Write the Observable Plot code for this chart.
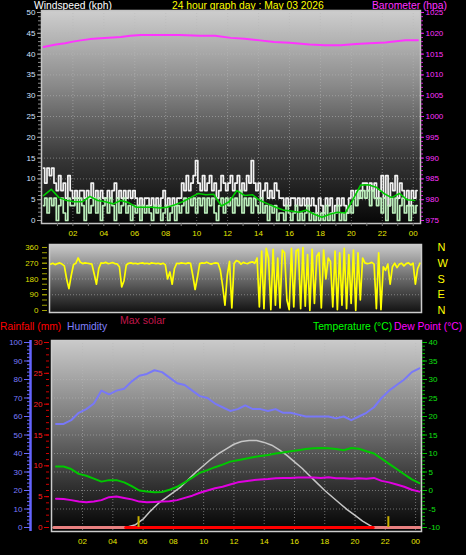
<!DOCTYPE html>
<html><head><meta charset="utf-8">
<script src="https://cdn.jsdelivr.net/npm/d3@7"></script>
<script src="https://cdn.jsdelivr.net/npm/@observablehq/plot@0.6"></script>
<style>
html,body{margin:0;padding:0;background:#000;overflow:hidden}
#wrap{position:relative;width:466px;height:555px;background:#000;font-family:"Liberation Sans",Arial,sans-serif;overflow:hidden}
.lbl{position:absolute;white-space:nowrap;line-height:1;font-family:"Liberation Sans",Arial,sans-serif}
.top{line-height:7px;top:2.4px;font-size:10.3px}
</style></head><body><div id="wrap">
<div class="lbl top" style="left:34px;color:#ffffff">Windspeed (kph)</div>
<div class="lbl top" style="left:172px;color:#ffff00">24 hour graph day : May 03 2026</div>
<div class="lbl top" style="left:372px;color:#ff33ff">Barometer (hpa)</div>
<div class="lbl" style="left:120px;top:314.5px;font-size:10.5px;color:#c0164a">Max solar</div>
<div class="lbl" style="left:0px;top:321.6px;font-size:10.3px;color:#ff0000">Rainfall (mm)</div>
<div class="lbl" style="left:67px;top:321.6px;font-size:10.3px;color:#8080ff">Humidity</div>
<div class="lbl" style="left:313px;top:321.6px;font-size:10.3px;color:#00ff00">Temperature (°C)</div>
<div class="lbl" style="left:394px;top:321.6px;font-size:10.3px;color:#ff00ff">Dew Point (°C)</div>
</div>
<script>
// ---------- DATA ----------
const hourTicks = [2,4,6,8,10,12,14,16,18,20,22,24];
const hourTickLabels = ["02","04","06","08","10","12","14","16","18","20","22","00"];
const compassLabels = {360:"N",270:"W",180:"S",90:"E",0:"N"};

// wind samples every 0.15 h starting at 0.1 h (km/h)
const gust = [12.6,9,12.6,10.8,12.6, 9,7.2,10.8,7.2,9,5.4, 10.8,7.2,
 5.4,7.2,5.4,7.2,7.2,5.4,7.2,5.4,9,5.4,7.2,5.4,7.2,5.4,5.4,7.2,5.4,7.2,9,5.4,7.2,5.4,7.2,5.4,7.2,5.4,7.2,
 5.4,3.6,5.4,3.6,5.4,5.4,3.6,5.4,3.6,5.4,3.6,5.4,7.2,3.6,5.4,3.6,5.4,3.6,5.4,5.4,
 9,7.2,10.8,7.2,9,10.8,14.4,
 9,7.2,10.8,7.2,9,10.8,7.2,9,5.4,7.2,10.8,9,7.2,
 9,10.8,7.2,9,10.8,7.2,9,7.2,10.8,9,14.4,9,
 7.2,9,5.4,7.2,9,5.4,7.2,5.4,9,7.2,5.4,
 5.4,3.6,5.4,3.6,5.4,5.4,3.6,5.4,3.6,5.4,3.6,5.4,3.6,5.4,
 3.6,1.8,5.4,3.6,1.8,5.4,3.6,5.4,1.8,3.6,5.4,3.6,5.4,3.6,1.8,
 5.4,7.2,5.4,7.2,5.4,7.2,9,
 9,7.2,9,7.2,9,5.4,
 7.2,10.8,5.4,10.8,3.6,9,7.2,10.8,5.4,9,7.2,
 5.4,7.2,3.6,7.2,5.4,7.2];
const wind = [3.6,5.4,1.8,5.4,3.6,
 5.4,0,3.6,5.4,1.8,0,5.4,3.6,
 3.6,5.4,1.8,5.4,3.6,0,5.4,1.8,3.6,5.4,1.8,5.4,0,3.6,5.4,1.8,5.4,3.6,0,5.4,1.8,3.6,5.4,1.8,3.6,0,3.6,
 1.8,3.6,0,3.6,1.8,3.6,1.8,0,3.6,1.8,3.6,0,1.8,3.6,0,1.8,3.6,0,3.6,1.8,
 3.6,5.4,1.8,5.4,3.6,5.4,1.8,
 5.4,3.6,5.4,1.8,5.4,3.6,5.4,1.8,0,3.6,5.4,1.8,5.4,
 3.6,5.4,1.8,5.4,3.6,7.2,1.8,5.4,3.6,5.4,1.8,5.4,
 3.6,1.8,5.4,1.8,3.6,0,3.6,1.8,3.6,0,1.8,
 1.8,0,3.6,1.8,0,1.8,3.6,0,1.8,0,1.8,3.6,0,1.8,
 0,1.8,0,1.8,0,3.6,0,1.8,0,1.8,3.6,0,1.8,0,1.8,
 3.6,1.8,5.4,3.6,7.2,5.4,7.2,
 5.4,7.2,3.6,7.2,5.4,3.6,
 5.4,1.8,5.4,0,3.6,5.4,1.8,5.4,0,3.6,5.4,
 1.8,3.6,0,3.6,1.8,3.6];
// average wind every 0.5 h starting 0.1 h
const avgWind = [6,7.5,5.5,4.8,4.5,4.5,5.8,4.8,4.5,4.0,4.8,4.3,3.2,3.2,3.2,3.0,3.2,3.8,4.5,5.5,
 6.5,6.2,6.3,3.5,4.5,7.2,6.0,6.2,4.8,4.0,3.2,2.5,2.3,2.0,2.5,1.5,0.8,1.5,2.0,1.8,
 5.0,8.5,8.6,8.0,6.5,5.5,6.5,5.0,4.8];
// barometer
const pressHours = [0.1,0.9,1.5,2,2.5,3.1,3.8,5.1,5.7,6.4,7.6,8.9,10.2,11.2,12.2,13.1,14.1,15,16,17.3,18.3,19.3,20.3,21.2,22.2,22.9,23.5,24.3];
const pressHpa = [1016.7,1017.3,1017.6,1018,1018.3,1018.6,1018.8,1019.1,1019.4,1019.6,1019.6,1019.6,1019.4,1019.4,1018.9,1018.7,1018.3,1017.9,1017.7,1017.3,1017.1,1017.1,1017.4,1017.6,1017.8,1018.1,1018.3,1018.3];
// wind direction every 0.15 h starting 0.1 h (degrees)
const windDir = [265,270,262,268,272,265,255,180,125,200,262,270,300,275,268,272,270,268,265,210,
 150,240,272,270,275,268,270,274,268,266,250,135,170,260,270,272,268,270,266,270,
 272,268,270,266,272,270,268,270,265,270,262,180,220,150,240,270,268,272,270,268,
 272,270,200,120,190,268,272,270,276,270,265,270,272,270,230,140,30,200,280,15,
 270,285,280,265,275,270,268,275,278,270,300,
 20,340,10,355,300,5,350,30,300,15,345,330,60,5,355,20,340,350,10,360,25,320,0,350,40,310,330,15,345,180,
 300,280,20,340,5,330,30,355,10,320,40,345,0,330,60,300,
 272,268,270,275,265,10,330,5,250,230,265,150,250,270,245,265,270,255,268,272,260,270,150,240,270];
// temperature / humidity / dew point every 0.5 h starting 0.25 h
const humidity = [56,56,58,62,64,67,74,72,74,75,79,82,83,85,84,81,78,77,74,71,70,67,65,63,64,66,64,64,63,64,
 62,62,61,60,60,60,60,59,60,58,60,62,65,70,74,77,80,84,86];
const temperature = [6.5,6.5,5.8,4.5,4.0,3.2,2.4,2.8,2.8,2.2,1.2,0.0,-0.3,-0.5,-0.4,0.2,1.0,2.2,3.5,4.8,
 5.5,6.3,7.0,7.8,8.2,8.6,9.0,9.3,9.6,10.0,10.3,10.6,10.9,11.2,11.4,11.5,11.4,11.2,10.9,11.5,
 11.3,10.6,10.0,8.6,7.2,5.8,4.4,3.0,2.0];
const dewPoint = [-2.2,-2.3,-2.6,-3.0,-3.2,-3.0,-2.6,-1.8,-1.6,-2.0,-2.4,-3.0,-3.2,-3.1,-3.0,-2.9,-2.6,-2.0,-1.4,-0.6,
 0.0,0.6,1.0,1.6,2.2,2.5,2.8,3.0,3.1,3.3,3.4,3.4,3.5,3.5,3.5,3.4,3.6,3.3,3.3,3.2,
 3.3,3.2,3.4,2.6,2.2,1.6,1.0,0.2,-0.3];
// max solar (percent of left scale)
const solarHours = [4.85,5.5,6,6.5,7,7.5,8,8.5,9,9.5,10,10.5,11,11.5,12,12.5,13,13.5,14,14.5,15,15.5,16,16.5,17,17.5,18,18.5,19,19.5,20,20.5,21,21.2];
const solarPct = [0,1.5,4.5,9,13,16,19,22,26,30,33.5,37,40,42.5,45,46.5,47,47,46,44.5,42,39,35.5,32,28,24,20,16.5,13,9.5,6.5,3.5,1,0];
// rainfall (mm)
const rainHours = [0.1,24.3];
const rainMM = [0,0];
const rainDayHours = [4.85,21.2];
const rainDayMM = [0,0];
// yellow markers
const markerHours = [5.7,22.2];
const markerPct = [8,8];

// ---------- HELPERS ----------
const fmtHour = d => hourTickLabels[hourTicks.indexOf(d)];
const tW = (i) => 0.1 + i * 0.15;
const tA = (i) => 0.1 + i * 0.5;
const tT = (i) => 0.25 + i * 0.5;
const idx = a => d3.range(a.length);
const font = '"Liberation Sans", Arial, sans-serif';
const baseStyle = {background: "transparent", overflow: "visible", maxWidth: "none", fontFamily: font, fontSize: "8px", color: "#ccc"};
const grid = {stroke: "#b8b8b8", strokeOpacity: 0.55, strokeDasharray: "1,2", strokeWidth: 1};
function addGrad(svg, id, stops) {
  const defs = d3.select(svg).insert("defs", ":first-child");
  const g = defs.append("linearGradient").attr("id", id).attr("x1", 0).attr("y1", 0).attr("x2", 0).attr("y2", 1);
  stops.forEach(([o, c]) => g.append("stop").attr("offset", o).attr("stop-color", c));
}
function place(svg, top) {
  svg.style.position = "absolute"; svg.style.left = "0px"; svg.style.top = top + "px";
  document.getElementById("wrap").appendChild(svg);
}

// ---------- PANEL 1 : wind + barometer ----------
const p1 = Plot.plot({
  width: 466, height: 245, marginLeft: 41, marginRight: 46, marginTop: 10, marginBottom: 22,
  style: baseStyle,
  x: {domain: [-0.03, 24.47], axis: null},
  y: {domain: [-0.72, 50.48], axis: null},
  marks: [
    Plot.frame({fill: "url(#bg1)"}),
    Plot.gridY(d3.range(5, 50, 5), grid),
    Plot.gridX(hourTicks, grid),
    Plot.line(idx(gust), {x: tW, y: i => gust[i], curve: "step", stroke: "#f2f2f2", strokeWidth: 1.7}),
    Plot.line(idx(wind), {x: tW, y: i => wind[i], curve: "step", stroke: "#bdf0bd", strokeWidth: 1.7}),
    Plot.line(idx(avgWind), {x: tA, y: i => avgWind[i], stroke: "#00cc00", strokeWidth: 1.6}),
    Plot.line(idx(pressHpa), {x: i => pressHours[i], y: i => pressHpa[i] - 975, stroke: "#ff33ff", strokeWidth: 2}),
    Plot.frame({stroke: "#c4c4c4", strokeWidth: 1.5}),
    Plot.axisY(d3.range(0, 51, 1), {anchor: "left", tickSize: 3, tickFormat: () => "", stroke: "#8c8c8c", label: null}),
    Plot.axisY(d3.range(0, 51, 5), {anchor: "left", tickSize: 4, tickPadding: 2, stroke: "#9a9a9a", fill: "#d4e2ff", fontSize: 8, label: null}),
    Plot.axisY(d3.range(0, 51, 1), {anchor: "right", tickSize: 2, tickFormat: () => "", stroke: "#d020d0", label: null}),
    Plot.axisY(d3.range(0, 51, 5), {anchor: "right", tickSize: 3, tickPadding: 2, tickFormat: d => String(d + 975), stroke: "#e020e0", fill: "#ff33ff", fontSize: 8, label: null}),
    Plot.axisX(d3.range(1, 25), {anchor: "bottom", tickSize: 3, tickFormat: () => "", stroke: "#7a7a7a", label: null}),
    Plot.axisX(hourTicks, {anchor: "bottom", tickSize: 0, tickPadding: 7, tickFormat: fmtHour, fill: "#e6e600", fontSize: 8, label: null})
  ]
});
addGrad(p1, "bg1", [[0, "#cecece"], [0.35, "#8a8a8a"], [0.7, "#363636"], [1, "#070707"]]);
place(p1, 0);

// ---------- PANEL 2 : wind direction ----------
const p2 = Plot.plot({
  width: 466, height: 80, marginLeft: 49, marginRight: 45, marginTop: 6, marginBottom: 6,
  style: baseStyle,
  x: {domain: [0.03, 24.35], axis: null},
  y: {domain: [-11.4, 377], axis: null},
  marks: [
    Plot.frame({fill: "url(#bg2)"}),
    Plot.gridY([90, 180, 270], grid),
    Plot.line(idx(windDir), {x: tW, y: i => windDir[i], stroke: "#ffff00", strokeWidth: 1.7}),
    Plot.frame({stroke: "#cccccc", strokeWidth: 1.5}),
    Plot.axisY(d3.range(0, 361, 30), {anchor: "left", tickSize: 5, dx: -2, tickFormat: () => "", stroke: "#a0a000", label: null}),
    Plot.axisY([0, 90, 180, 270, 360], {anchor: "left", tickSize: 5, tickPadding: 4, dx: -2, stroke: "#a0a000", fill: "#dede00", fontSize: 8, label: null}),
    Plot.axisY([0, 90, 180, 270, 360], {anchor: "right", tickSize: 0, tickPadding: 16, tickFormat: d => compassLabels[d], fill: "#ffff00", fontSize: 11, label: null})
  ]
});
addGrad(p2, "bg2", [[0, "#cacaca"], [0.5, "#6a6a6a"], [1, "#111111"]]);
place(p2, 238);

// ---------- PANEL 3 : temperature / humidity ----------
const hum = v => v;                 // humidity % on primary scale
const tmp = t => (t + 10) * 2;      // temperature axis -10..40 onto 0..100
const rn = r => r * 100 / 30;       // rainfall axis 0..30 onto 0..100
const p3 = Plot.plot({
  width: 466, height: 220, marginLeft: 51, marginRight: 45, marginTop: 5, marginBottom: 24,
  style: baseStyle,
  x: {domain: [-0.05, 24.39], axis: null},
  y: {domain: [-2.16, 101.08], axis: null},
  marks: [
    Plot.frame({fill: "url(#bg3)"}),
    Plot.gridY(d3.range(10, 100, 10), grid),
    Plot.gridX(hourTicks, grid),
    Plot.line(idx(solarPct), {x: i => solarHours[i], y: i => solarPct[i], stroke: "#c6c6c6", strokeWidth: 1.5}),
    Plot.line(idx(rainMM), {x: i => rainHours[i], y: i => rn(rainMM[i]), stroke: "#e88080", strokeWidth: 3}),
    Plot.line(idx(rainDayMM), {x: i => rainDayHours[i], y: i => rn(rainDayMM[i]), stroke: "#ff0000", strokeWidth: 3}),
    Plot.ruleX(idx(markerHours), {x: i => markerHours[i], y: i => markerPct[i], stroke: "#c8b000", strokeWidth: 2, insetBottom: -4}),
    Plot.line(idx(humidity), {x: tT, y: i => hum(humidity[i]), stroke: "#7878f8", strokeWidth: 2}),
    Plot.line(idx(temperature), {x: tT, y: i => tmp(temperature[i]), stroke: "#00c800", strokeWidth: 2}),
    Plot.line(idx(dewPoint), {x: tT, y: i => tmp(dewPoint[i]), stroke: "#e000e0", strokeWidth: 2}),
    Plot.frame({stroke: "#cccccc", strokeWidth: 1.5}),
    Plot.ruleX([-0.05], {dx: -21, stroke: "#6464ff", strokeWidth: 2.5}),
    Plot.axisY(d3.range(0, 101, 2), {anchor: "left", tickSize: 3, dx: -21, tickFormat: () => "", stroke: "#6a6aff", label: null}),
    Plot.axisY(d3.range(0, 101, 10), {anchor: "left", tickSize: 6, tickPadding: 2, dx: -21, stroke: "#6a6aff", fill: "#7c7cff", fontSize: 8, label: null}),
    Plot.axisY(d3.range(0, 31, 1).map(rn), {anchor: "left", tickSize: 3, dx: -2, tickFormat: () => "", stroke: "#d00000", label: null}),
    Plot.axisY(d3.range(0, 31, 5).map(rn), {anchor: "left", tickSize: 5, tickPadding: 2, dx: -2, tickFormat: d => String(Math.round(d * 0.3)), stroke: "#e00000", fill: "#ff2020", fontSize: 8, label: null}),
    Plot.axisY(d3.range(-10, 41, 1).map(tmp), {anchor: "right", tickSize: 3, tickFormat: () => "", stroke: "#00b000", label: null}),
    Plot.axisY(d3.range(-10, 41, 5).map(tmp), {anchor: "right", tickSize: 5, tickPadding: 2, tickFormat: d => String(Math.round(d / 2 - 10)), stroke: "#00c000", fill: "#10e010", fontSize: 8, label: null}),
    Plot.axisX(hourTicks, {anchor: "bottom", tickSize: 0, tickPadding: 7, tickFormat: fmtHour, fill: "#e6e600", fontSize: 8, label: null})
  ]
});
addGrad(p3, "bg3", [[0, "#cacaca"], [0.4, "#7e7e7e"], [0.75, "#333333"], [1, "#030303"]]);
place(p3, 335);
</script></body></html>
